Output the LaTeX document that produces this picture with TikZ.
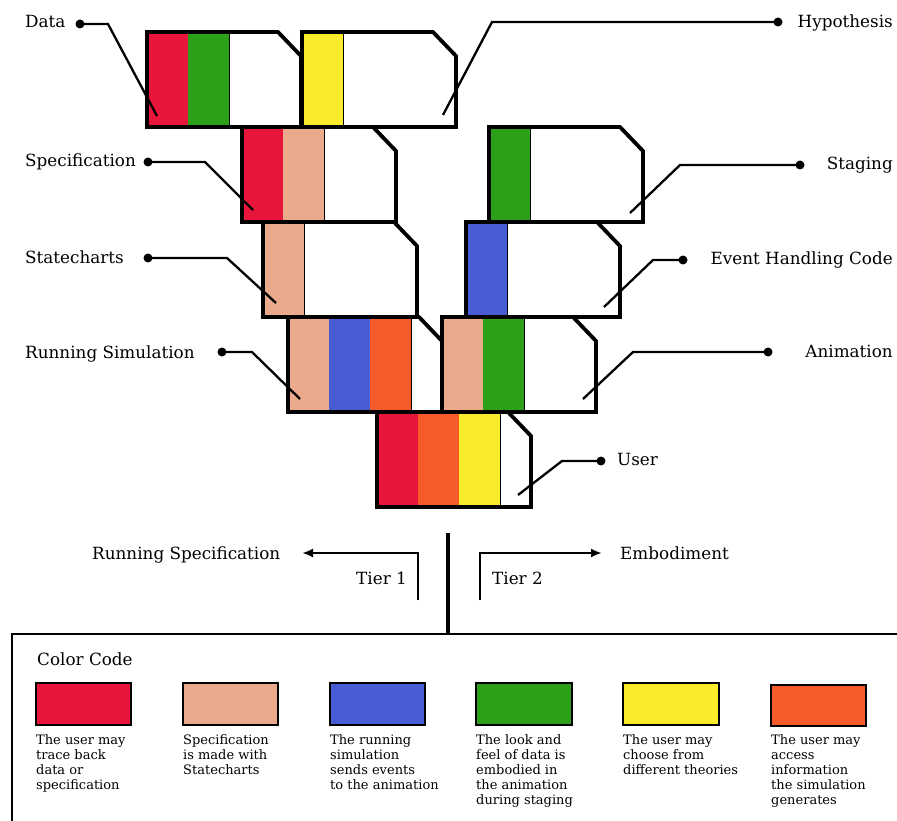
\documentclass[tikz,border=0pt]{standalone}
\usepackage{fontspec}
\setmainfont{DejaVu Serif}
\usetikzlibrary{arrows.meta}
\definecolor{cred}{RGB}{232,22,58}
\definecolor{cgreen}{RGB}{44,160,24}
\definecolor{cyellow}{RGB}{250,235,45}
\definecolor{csalmon}{RGB}{235,170,140}
\definecolor{cblue}{RGB}{72,92,212}
\definecolor{corange}{RGB}{245,90,42}
\newcommand{\tierbox}[3]{%
  \begin{scope}[shift={(#1,#2)}]
    \fill[white] (0,0) -- (131,0) -- (154,24) -- (154,95) -- (0,95) -- cycle;
    \foreach \c [count=\i from 0] in {#3} {
      \fill[\c] (\i*41,0) rectangle ++(41,95);
      \draw[line width=1pt] (\i*41+41,0) -- ++(0,95);
    }
    \draw[boxline] (0,0) -- (131,0) -- (154,24) -- (154,95) -- (0,95) -- cycle;
  \end{scope}}
\begin{document}
\begin{tikzpicture}[x=1pt,y=-1pt,
  boxline/.style={line width=3.8pt,line join=miter},
  leader/.style={line width=2.3pt},
  lab/.style={font=\fontsize{16.8}{19}\selectfont, inner sep=0pt},
  legtext/.style={font=\fontsize{13}{15}\selectfont, inner sep=0pt, align=left, anchor=north west},
  dot/.style={circle,fill=black,inner sep=0pt,minimum size=9pt},
  swatch/.style={draw=black,line width=1.4pt}]
\useasboundingbox[fill=white] (0,0) rectangle (897,821);

% boxes
\tierbox{147}{32}{cred,cgreen}
\tierbox{302}{32}{cyellow}
\tierbox{242}{127}{cred,csalmon}
\tierbox{489}{127}{cgreen}
\tierbox{263}{222}{csalmon}
\tierbox{466}{222}{cblue}
\tierbox{288}{317}{csalmon,cblue,corange}
\tierbox{442}{317}{csalmon,cgreen}
\tierbox{377}{412}{cred,corange,cyellow}

% labels
\node[lab,anchor=base west] (lData) at (25,28) {Data};
\node[lab,anchor=base east] (lHyp) at (893,28) {Hypothesis};
\node[lab,anchor=base west] (lSpec) at (25,167) {Specification};
\node[lab,anchor=base west] (lState) at (25,263) {Statecharts};
\node[lab,anchor=base west] (lRun) at (25,358) {Running Simulation};
\node[lab,anchor=base east] (lStag) at (893,170) {Staging};
\node[lab,anchor=base east] (lEvent) at (893,265) {Event Handling Code};
\node[lab,anchor=base east] (lAnim) at (893,357) {Animation};
\node[lab,anchor=base west] (lUser) at (617,465) {User};

% dots and leaders
\node[dot] (dData) at (80,24) {};
\coordinate (bData) at (108,24); \coordinate (eData) at (157,116);
\draw[leader] (dData.center) -- (bData) -- (eData);
\node[dot] (dHyp) at (778,22) {};
\coordinate (bHyp) at (492,22); \coordinate (eHyp) at (443,115);
\draw[leader] (dHyp.center) -- (bHyp) -- (eHyp);
\node[dot] (dSpec) at (148,162) {};
\coordinate (bSpec) at (205,162); \coordinate (eSpec) at (253,210);
\draw[leader] (dSpec.center) -- (bSpec) -- (eSpec);
\node[dot] (dState) at (148,258) {};
\coordinate (bState) at (227,258); \coordinate (eState) at (276,303);
\draw[leader] (dState.center) -- (bState) -- (eState);
\node[dot] (dRun) at (222,352) {};
\coordinate (bRun) at (252,352); \coordinate (eRun) at (300,399);
\draw[leader] (dRun.center) -- (bRun) -- (eRun);
\node[dot] (dAnim) at (768,352) {};
\coordinate (bAnim) at (633,352); \coordinate (eAnim) at (583,399);
\draw[leader] (dAnim.center) -- (bAnim) -- (eAnim);
\node[dot] (dUser) at (601,461) {};
\coordinate (bUser) at (562,461); \coordinate (eUser) at (518,495);
\draw[leader] (dUser.center) -- (bUser) -- (eUser);
\node[dot] (dStag) at (800,165) {};
\coordinate (bStag) at (680,165); \coordinate (eStag) at (630,213);
\draw[leader] (dStag.center) -- (bStag) -- (eStag);
\node[dot] (dEvent) at (683,260) {};
\coordinate (bEvent) at (653,260); \coordinate (eEvent) at (604,307);
\draw[leader] (dEvent.center) -- (bEvent) -- (eEvent);

% tiers
\node[lab,anchor=base west] (runspec) at (92,559) {Running Specification};
\node[lab,anchor=base west] (embod) at (620,559) {Embodiment};
\node[lab,anchor=base east] (tier1) at (407,584) {Tier 1};
\node[lab,anchor=base west] (tier2) at (492,584) {Tier 2};
\coordinate (t1a) at (418,600); \coordinate (t1b) at (418,553); \coordinate (t1c) at (302,553);
\coordinate (t2a) at (480,600); \coordinate (t2b) at (480,553); \coordinate (t2c) at (602,553);
\draw[leader,-{Latex[length=11pt,width=9pt]}] (t1a) -- (t1b) -- (t1c);
\draw[leader,-{Latex[length=11pt,width=9pt]}] (t2a) -- (t2b) -- (t2c);
\coordinate (divtop) at (448,533); \coordinate (divbot) at (448,634);
\draw[line width=3.5pt] (divtop) -- (divbot);

% legend
\coordinate (lgA) at (12,830); \coordinate (lgB) at (12,634); \coordinate (lgC) at (905,634);
\draw[line width=2.4pt] (lgA) -- (lgB) -- (lgC);
\node[lab,anchor=base west] (cc) at (37,665) {Color Code};
\draw[swatch,fill=cred] (36,683) rectangle (131,725);
\draw[swatch,fill=csalmon] (183,683) rectangle (278,725);
\draw[swatch,fill=cblue] (330,683) rectangle (425,725);
\draw[swatch,fill=cgreen] (476,683) rectangle (572,725);
\draw[swatch,fill=cyellow] (623,683) rectangle (719,725);
\draw[swatch,fill=corange] (771,685) rectangle (866,726);
\node[legtext] (t1) at (36,734) {The user may\\trace back\\data or\\specification};
\node[legtext] (t2) at (183,734) {Specification\\is made with\\Statecharts};
\node[legtext] (t3) at (330,734) {The running\\simulation\\sends events\\to the animation};
\node[legtext] (t4) at (476,734) {The look and\\feel of data is\\embodied in\\the animation\\during staging};
\node[legtext] (t5) at (623,734) {The user may\\choose from\\different theories};
\node[legtext] (t6) at (771,734) {The user may\\access\\information\\the simulation\\generates};
\end{tikzpicture}
\end{document}
